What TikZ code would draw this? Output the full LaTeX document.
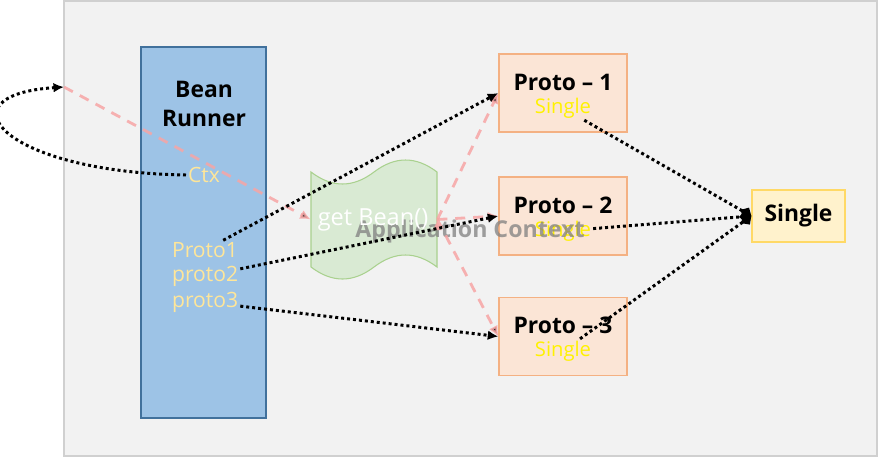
\documentclass[tikz,border=0pt]{standalone}
\usepackage{fontspec}
\setmainfont{Open Sans}
\usetikzlibrary{arrows.meta}

\definecolor{panelbg}{HTML}{F2F2F2}
\definecolor{panelline}{HTML}{D0D0D0}
\definecolor{runnerfill}{HTML}{9DC3E6}
\definecolor{runnerline}{HTML}{41719C}
\definecolor{tapefill}{HTML}{D9EAD3}
\definecolor{tapeline}{HTML}{A9D18E}
\definecolor{protofill}{HTML}{FBE5D6}
\definecolor{protoline}{HTML}{F4B183}
\definecolor{singlefill}{HTML}{FFF2CC}
\definecolor{singleline}{HTML}{FFD966}
\definecolor{varcol}{HTML}{FFE699}
\definecolor{pinkline}{HTML}{F7A5A5}

\begin{document}
\begin{tikzpicture}[x=0.02cm,y=-0.02cm,>={Latex[length=6pt,width=5.5pt]}]
        \tikzset{protobox/.style={draw=protoline,
                fill=protofill,
                line width=0.8pt,
                minimum width=2.56cm,
                minimum height=1.56cm
            },
            title/.style={font=\bfseries\fontsize{13pt}{16pt}\selectfont},
            single/.style={text=yellow, inner sep=1pt, font=\fontsize{11.5pt}{13pt}\selectfont},
            var/.style={text=varcol, inner sep=1pt, font=\fontsize{12pt}{14pt}\selectfont},
            dots/.style={line width=1.7pt, dash pattern=on 1.7pt off 1.7pt},
            pinkdash/.style={draw=pinkline, opacity=0.85, line width=1.6pt,
                dash pattern=on 5.7pt off 4.5pt},
        }
        \useasboundingbox (0,0) rectangle (878,457);
        \fill[panelbg, draw=panelline, line width=0.6pt] (64,1) rectangle (877,456);

        \node [draw=runnerline, fill=runnerfill, line width=0.8pt,
            minimum width=2.5cm, minimum height=7.42cm] (runner) at (203.5,232.5) {};
        \node [align=center, font=\bfseries\fontsize{13pt}{16pt}\selectfont]
            (runnername) at (204,104) {Bean\\Runner};
        \node [var] (ctx) at (204,175) {Ctx};
        \node [var, anchor=west] (p1) at (170,250) {Proto1};
        \node [var, anchor=west] (p2) at (170,276) {proto2};
        \node [var, anchor=west] (p3) at (170,302) {proto3};

        % punched tape
        \node [minimum width=2.52cm, minimum height=1.9cm, inner sep=0pt] (tape) at (374,219.5) {};
        \filldraw [draw=tapeline, fill=tapefill, line width=0.6pt]
            (311,172) .. controls (332,188) and (353,188) .. (374,172)
            .. controls (395,156) and (416,156) .. (437,172) -- (437,267)
            .. controls (416,251) and (395,251) .. (374,267)
            .. controls (353,283) and (332,283) .. (311,267) -- cycle;

        \node [protobox] (pr1) at (563,93) {};
        \node [title] (t1) at (563,82) {Proto – 1};
        \node [single] (s1) at (563,108) {Single};
        \node [protobox] (pr2) at (563,216) {};
        \node [title] (t2) at (563,205) {Proto – 2};
        \node [single] (s2) at (563,231) {Single};
        \node [protobox] (pr3) at (563,336.5) {};
        \node [title] (t3) at (563,325) {Proto – 3};
        \node [single] (s3) at (563,351) {Single};

        \node [draw=singleline, fill=singlefill, line width=0.8pt,
            minimum width=1.86cm, minimum height=1.04cm,
            font=\bfseries\fontsize{13pt}{16pt}\selectfont] (single) at (798.5,216) {Single};

        \node [text=gray, text opacity=0.75, font=\bfseries\fontsize{13.2pt}{15pt}\selectfont]
            (appctx) at (470,231) {Application Context};
        \node [text=white, font=\fontsize{13.4pt}{15pt}\selectfont] (getbean) at (373,220) {get Bean()};

        \coordinate (entry) at (64,87);
%% paths
\path[pinkdash,->]
    (entry) edge (tape.west)
    (tape.east) edge (pr1.west)
    (tape.east) edge (pr2.west)
    (tape.east) edge (pr3.west)
;
\draw[dots,->] (ctx.west) .. controls (0,172) and (-60,95) .. (entry);
\path[draw,dots,->]
    (p1) edge (pr1.west)
    (p2) edge (pr2.west)
    (p3) edge (pr3.west)
;
\path[draw,dots,-{Diamond[length=7pt,width=7pt]}]
    (s1) edge (single.west)
    (s2) edge (single.west)
    (s3) edge (single.west)
;
\end{tikzpicture}
\end{document}
